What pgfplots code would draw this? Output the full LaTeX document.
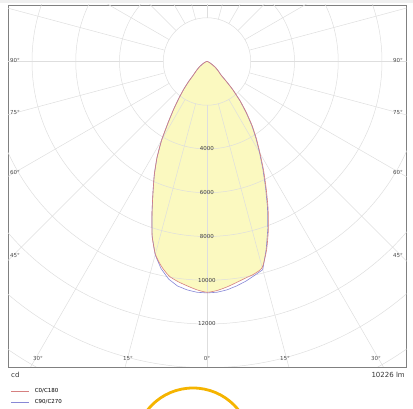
\documentclass[border=0pt]{standalone}
\usepackage{pgfplots}
\usepackage{pgfplotstable}
\pgfplotsset{compat=1.18}
\usepackage{fontspec}
\setmainfont{DejaVu Sans}
\definecolor{gridc}{RGB}{222,222,222}
\definecolor{fillc}{RGB}{251,249,192}
\definecolor{redc}{RGB}{214,128,128}
\definecolor{bluec}{RGB}{136,136,214}
\definecolor{framec}{RGB}{128,128,128}
\definecolor{orangec}{RGB}{245,180,0}

% C0/C180: gamma (signed, C180 negative side), intensity cd
\pgfplotstableread{
g I
-90 0
-80 30
-70 90
-65 150
-60 250
-55 420
-50 610
-47.5 730
-45 900
-42.5 1250
-40 1650
-37.5 2100
-35 2650
-32.5 3300
-30 4150
-27.5 4950
-25 5700
-22.5 6450
-20 7350
-17.5 8350
-15 9120
-12.5 9600
-10 9960
-7.5 10150
-5 10300
-2.5 10450
0 10550
2.5 10480
5 10350
7.5 10200
10 10060
12.5 9950
15 9750
17.5 9050
20 8200
22.5 7300
25 6400
27.5 5600
30 4850
32.5 4220
35 3620
37.5 2980
40 2380
42.5 1750
44 1330
45 1080
46 900
47.5 800
50 680
55 470
60 260
65 150
70 90
80 30
90 0
}\redtab

% C90/C270
\pgfplotstableread{
g I
-90 0
-80 30
-70 90
-65 150
-60 250
-55 420
-50 610
-47.5 730
-45 900
-42.5 1250
-40 1650
-37.5 2100
-35 2650
-32.5 3300
-30 4150
-27.5 4950
-25 5700
-22.5 6450
-20 7350
-17.5 8350
-15 9150
-12.5 9700
-10 10100
-7.5 10350
-5 10480
-2.5 10560
0 10580
2.5 10560
5 10480
7.5 10350
10 10200
12.5 10020
15 9850
17.5 9000
20 8130
22.5 7230
25 6330
27.5 5530
30 4800
32.5 4170
35 3570
37.5 2940
40 2350
42.5 1730
44 1320
45 1070
46 890
47.5 790
50 670
55 465
60 255
65 150
70 90
80 30
90 0
}\bluetab

\begin{document}
\begin{tikzpicture}
\path[use as bounding box] (0pt,0pt) rectangle (413pt,409pt);
\fill[gray!12] (0pt,406pt) rectangle (413pt,409pt);
\begin{axis}[
  at={(8pt,42pt)}, anchor=south west,
  scale only axis, width=398.7pt, height=362pt,
  xmin=-9097, xmax=9129, ymin=-13966, ymax=2583,
  xtick=\empty, ytick=\empty,
  axis line style={framec, line width=0.8pt},
  clip=true,
  reverse legend,
  legend style={draw=none, fill=none, at={(axis description cs:0,0)}, anchor=north west,
    xshift=3pt, yshift=-19pt, font=\fontsize{5.5}{6}\selectfont, inner sep=0pt,
    row sep=2pt, legend cell align=left,
    /tikz/every odd column/.append style={column sep=4pt}},
]
\addplot[draw=none, fill=fillc, forget plot, smooth, tension=0.4]
  table[x expr={\thisrow{I}*sin(\thisrow{g})}, y expr={-\thisrow{I}*cos(\thisrow{g})}] {\redtab};
\pgfplotsinvokeforeach{2000,4000,6000,8000,10000,12000,14000,16000}{
  \draw[gridc, line width=0.5pt] (axis cs:0,0) circle[radius=#1];
}
\pgfplotsinvokeforeach{0,15,30,45,60,75,90,105,120,135,150,165,180,195,210,225,240,255,270,285,300,315,330,345}{
  \draw[gridc, line width=0.5pt] (axis cs:{2000*sin(#1)},{-2000*cos(#1)}) -- (axis cs:{20000*sin(#1)},{-20000*cos(#1)});
}
\addplot[bluec, line width=0.6pt]
  table[x expr={\thisrow{I}*sin(\thisrow{g})}, y expr={-\thisrow{I}*cos(\thisrow{g})}] {\bluetab};
\addlegendentry{C90/C270}
\addplot[redc, line width=0.6pt, smooth, tension=0.4]
  table[x expr={\thisrow{I}*sin(\thisrow{g})}, y expr={-\thisrow{I}*cos(\thisrow{g})}] {\redtab};
\addlegendentry{C0/C180}
\foreach \r in {4000,6000,8000,10000,12000}{
  \edef\temp{\noexpand\node[font=\noexpand\fontsize{5.5}{6}\noexpand\selectfont, text=black!75] at (axis cs:0,-\r) {\r};}
  \temp
}
\end{axis}
\begin{scope}[font=\fontsize{5.5}{6}\selectfont, text=black!70]
\node at (15pt,348pt) {90°};
\node at (398pt,348pt) {90°};
\node at (15pt,296pt) {75°};
\node at (398pt,296pt) {75°};
\node at (15pt,236pt) {60°};
\node at (398pt,236pt) {60°};
\node at (15pt,153pt) {45°};
\node at (398pt,153pt) {45°};
\node at (38pt,50pt) {30°};
\node at (128pt,50pt) {15°};
\node at (207pt,50pt) {0°};
\node at (285pt,50pt) {15°};
\node at (376pt,50pt) {30°};
\end{scope}
\node[anchor=west, font=\fontsize{7}{8}\selectfont, text=black!80, inner sep=0pt] at (11pt,34pt) {cd};
\node[anchor=east, font=\fontsize{7}{8}\selectfont, text=black!80, inner sep=0pt] at (405pt,34pt) {10226 lm};
\begin{scope}
\clip (0pt,0pt) rectangle (413pt,409pt);
\draw[orangec, line width=2.8pt] (193pt,-37pt) circle[radius=58pt];
\end{scope}
\end{tikzpicture}
\end{document}
